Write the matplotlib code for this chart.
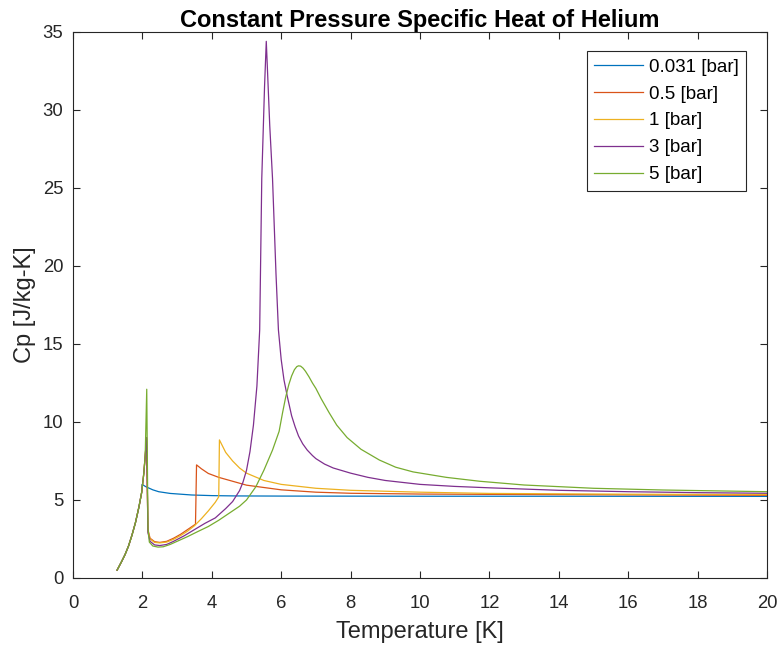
import matplotlib
matplotlib.use("Agg")
import matplotlib.pyplot as plt

plt.rcParams['font.family'] = ['Liberation Sans', 'DejaVu Sans']

labels = ["0.031 [bar]", "0.5 [bar]", "1 [bar]", "3 [bar]", "5 [bar]"]
colors = ["#0072BD", "#D95319", "#EDB120", "#7E2F8E", "#77AC30"]

# Temperature [K] and Cp values for each pressure
T_0031 = [1.27, 1.40, 1.50, 1.60, 1.70, 1.80, 1.90, 1.98, 1.99, 2.10, 2.30, 2.47, 2.80,
          3.42, 4.00, 4.67, 6.00, 10.0, 14.0, 20.0]
cp_0031 = [0.50, 1.05, 1.50, 2.05, 2.75, 3.55, 4.55, 5.50, 6.00, 5.85, 5.65, 5.53, 5.42,
           5.32, 5.28, 5.26, 5.25, 5.24, 5.24, 5.23]

T_05 = [1.27, 1.40, 1.50, 1.60, 1.70, 1.80, 1.90, 1.98, 2.04, 2.08, 2.12, 2.16, 2.22, 2.35,
        2.50, 2.70, 2.90, 3.10, 3.30, 3.53, 3.56, 3.70, 3.90, 4.20, 4.60, 5.00, 5.50, 6.00,
        7.00, 8.00, 10.0, 12.0, 16.0, 20.0]
cp_05 = [0.50, 1.05, 1.50, 2.05, 2.75, 3.55, 4.55, 5.50, 6.70, 7.80, 9.00, 3.10, 2.55, 2.33,
         2.28, 2.35, 2.55, 2.80, 3.10, 3.45, 7.25, 7.00, 6.70, 6.45, 6.20, 5.95, 5.80, 5.65,
         5.50, 5.43, 5.38, 5.36, 5.33, 5.30]

T_1 = [1.27, 1.40, 1.50, 1.60, 1.70, 1.80, 1.90, 1.98, 2.04, 2.08, 2.12, 2.16, 2.22, 2.35,
       2.50, 2.70, 2.90, 3.10, 3.30, 3.50, 3.70, 3.90, 4.10, 4.20, 4.22, 4.40, 4.60, 4.80,
       5.00, 5.50, 6.00, 7.00, 8.00, 10.0, 12.0, 16.0, 20.0]
cp_1 = [0.50, 1.05, 1.50, 2.05, 2.75, 3.55, 4.55, 5.50, 6.70, 7.80, 8.90, 3.00, 2.50, 2.28,
        2.25, 2.30, 2.48, 2.72, 3.00, 3.35, 3.80, 4.30, 4.85, 5.20, 8.85, 8.05, 7.50, 7.05,
        6.72, 6.25, 6.00, 5.75, 5.62, 5.50, 5.42, 5.37, 5.35]

T_3 = [1.27, 1.40, 1.50, 1.60, 1.70, 1.80, 1.90, 1.98, 2.04, 2.08, 2.12, 2.16, 2.22, 2.35,
       2.50, 2.70, 2.90, 3.20, 3.50, 3.80, 4.10, 4.40, 4.60, 4.80, 4.90, 5.00, 5.10, 5.20,
       5.30, 5.38, 5.44, 5.52, 5.57, 5.60, 5.67, 5.75, 5.85, 5.92, 6.00, 6.08, 6.17, 6.30,
       6.40, 6.50, 6.62, 6.75, 6.90, 7.00, 7.25, 7.50, 8.00, 8.50, 9.00, 10.0, 11.0, 12.0,
       14.0, 16.0, 18.0, 20.0]
cp_3 = [0.50, 1.05, 1.50, 2.05, 2.75, 3.55, 4.55, 5.50, 6.70, 7.80, 9.00, 2.90, 2.35, 2.12,
        2.08, 2.15, 2.35, 2.70, 3.10, 3.50, 3.85, 4.45, 4.90, 5.60, 6.15, 6.90, 8.10, 9.80,
        12.3, 15.9, 25.6, 31.5, 34.4, 32.8, 29.0, 25.6, 19.5, 15.9, 14.0, 12.7, 11.7, 10.4,
        9.70, 9.10, 8.60, 8.20, 7.85, 7.65, 7.30, 7.05, 6.72, 6.45, 6.25, 6.00, 5.87, 5.78,
        5.62, 5.53, 5.47, 5.43]

T_5 = [1.27, 1.40, 1.50, 1.60, 1.70, 1.80, 1.90, 1.98, 2.04, 2.08, 2.125, 2.16, 2.20, 2.30,
       2.45, 2.60, 2.80, 3.00, 3.30, 3.60, 3.90, 4.20, 4.50, 4.80, 5.00, 5.27, 5.50, 5.75,
       5.94, 6.04, 6.13, 6.22, 6.30, 6.38, 6.45, 6.50, 6.56, 6.63, 6.70, 6.80, 6.90, 7.00,
       7.15, 7.38, 7.60, 7.90, 8.30, 8.83, 9.30, 9.80, 10.76, 11.72, 13.0, 15.0, 17.0, 20.0]
cp_5 = [0.50, 1.05, 1.50, 2.05, 2.75, 3.55, 4.55, 5.50, 6.70, 7.80, 12.1, 3.20, 2.30, 2.05,
        1.98, 2.00, 2.15, 2.35, 2.65, 2.98, 3.30, 3.70, 4.15, 4.60, 5.00, 5.85, 6.90, 8.20,
        9.40, 10.6, 11.6, 12.4, 12.95, 13.35, 13.55, 13.6, 13.58, 13.45, 13.25, 12.9, 12.5, 12.15,
        11.5, 10.6, 9.80, 9.00, 8.25, 7.56, 7.10, 6.80, 6.45, 6.20, 5.96, 5.75, 5.64, 5.53]

series = [(T_0031, cp_0031), (T_05, cp_05), (T_1, cp_1), (T_3, cp_3), (T_5, cp_5)]

fig = plt.figure(figsize=(7.8, 6.5), dpi=100)
ax = fig.add_axes([0.0936, 0.1108, 0.8897, 0.840])

for (t, c), lab, col in zip(series, labels, colors):
    ax.plot(t, c, color=col, lw=0.9, label=lab)

ax.set_xlim(0, 20)
ax.set_ylim(0, 35)
ax.set_xticks(range(0, 21, 2))
ax.set_yticks(range(0, 36, 5))

axis_col = "#262626"
for sp in ax.spines.values():
    sp.set_color(axis_col)
    sp.set_linewidth(0.8)
ax.tick_params(direction='in', top=True, right=True, length=5, width=0.8,
               colors=axis_col, labelsize=13.3)
ax.tick_params(axis='x', pad=12)
ax.tick_params(axis='y', pad=7)

ax.set_title("Constant Pressure Specific Heat of Helium", fontsize=17,
             fontweight='bold', color='black', pad=3.5)
ax.set_xlabel("Temperature [K]", fontsize=17, color=axis_col, labelpad=7)
ax.set_ylabel("Cp [J/kg-K]", fontsize=17, color=axis_col, labelpad=4.5)

leg = ax.legend(loc='upper right', bbox_to_anchor=(0.9697, 0.965), fontsize=13.5,
                frameon=True, fancybox=False, edgecolor=axis_col, framealpha=1,
                handlelength=2.6, handletextpad=0.3, labelspacing=0.52,
                borderpad=0.4, borderaxespad=0)
leg.get_frame().set_linewidth(0.8)

fig.savefig("out.png", dpi=100)
